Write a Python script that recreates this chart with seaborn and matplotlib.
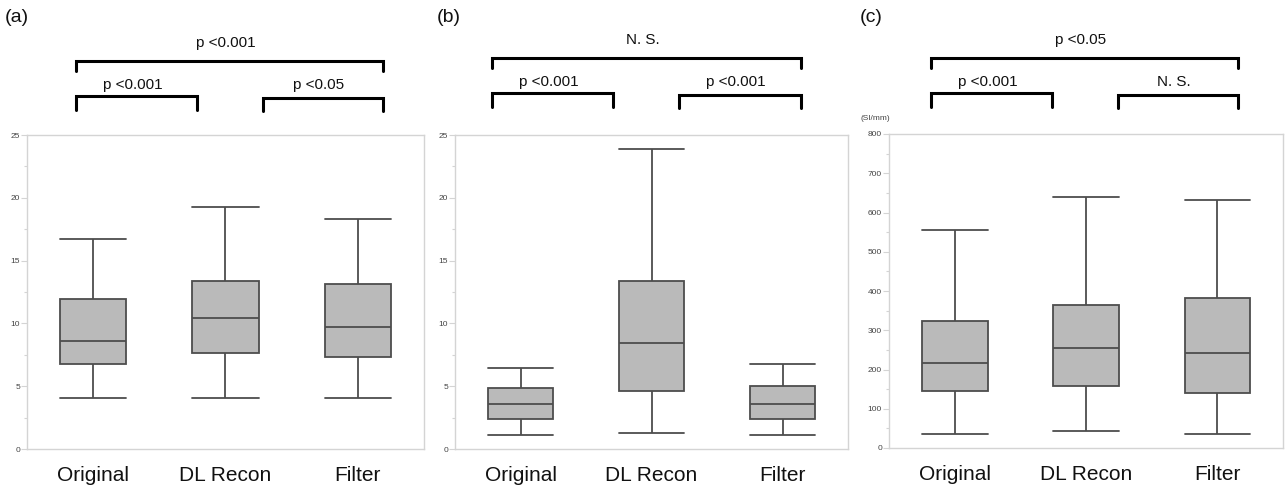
import numpy as np
import pandas as pd
import matplotlib.pyplot as plt
from matplotlib.lines import Line2D
import seaborn as sns

# groups on the x axis
groups = ['Original', 'DL Recon', 'Filter']

# five-number summaries: min, Q1, median, Q3, max
panel_a = {
    'Original': [4.1, 6.75, 8.6, 11.95, 16.7],
    'DL Recon': [4.1, 7.65, 10.4, 13.4, 19.3],
    'Filter': [4.1, 7.35, 9.7, 13.15, 18.3],
}
panel_b = {
    'Original': [1.15, 2.4, 3.6, 4.85, 6.45],
    'DL Recon': [1.3, 4.6, 8.4, 13.4, 23.9],
    'Filter': [1.15, 2.4, 3.6, 5.0, 6.8],
}
panel_c = {
    'Original': [36, 144, 217, 323, 556],
    'DL Recon': [44, 159, 254, 364, 639],
    'Filter': [36, 140, 241, 381, 633],
}

# significance labels: [Original vs Filter, Original vs DL Recon, DL Recon vs Filter]
p_labels_a = ['p <0.001', 'p <0.001', 'p <0.05']
p_labels_b = ['N. S.', 'p <0.001', 'p <0.001']
p_labels_c = ['p <0.05', 'p <0.001', 'N. S.']

panel_names = ['(a)', '(b)', '(c)']
y_max = [25, 25, 800]
y_major = [5, 5, 100]
unit_label = '(SI/mm)'

sns.set_style('white')
plt.rcParams['font.family'] = ['Liberation Sans', 'DejaVu Sans']

W, H = 1287, 488
fig = plt.figure(figsize=(W / 100, H / 100), dpi=100)


def fx(px):
    return px / W


def fy(py):
    return 1 - py / H


# axes boxes in pixels: left, right, top, bottom
ax_px = [(27, 424, 135, 449), (455, 848, 135, 449), (889, 1283, 134, 448)]
# bracket x positions in pixels: outer left, left end, right start, outer right
br_x = [(76, 197, 263, 383), (492, 613, 679, 801), (931, 1052, 1118, 1238)]
br_dy = [3, 0, 0]
label_x = [17, 449, 871]

edge = '#4d4d4d'
frame = '#d4d4d4'

for i, (summ, labels) in enumerate(zip([panel_a, panel_b, panel_c],
                                        [p_labels_a, p_labels_b, p_labels_c])):
    l, r, t, b = ax_px[i]
    ax = fig.add_axes([fx(l), fy(b), fx(r - l), (b - t) / H])

    df = pd.DataFrame([(g, v) for g in groups for v in summ[g]],
                      columns=['group', 'value'])
    sns.boxplot(data=df, x='group', y='value', order=groups, ax=ax,
                whis=(0, 100), width=0.5, color='#bababa', linecolor=edge,
                linewidth=1.3, showfliers=False, capwidths=0.5)

    ax.set_xlim(-0.5, 2.5)
    ax.set_ylim(0, y_max[i])
    ax.set_yticks(np.arange(0, y_max[i] + 1, y_major[i]))
    ax.set_yticks(np.arange(0, y_max[i] + 1, y_major[i] / 2), minor=True)
    ax.set_xlabel('')
    ax.set_ylabel('')
    ax.tick_params(axis='y', which='major', length=4, width=0.8,
                   color=frame, labelsize=6, labelcolor='#444444', pad=1,
                   left=True)
    ax.tick_params(axis='y', which='minor', length=2, width=0.8,
                   color=frame, left=True)
    ax.tick_params(axis='x', length=0, labelsize=15, pad=12,
                   labelcolor='#111111')
    for s in ax.spines.values():
        s.set_color(frame)
        s.set_linewidth(1.0)

    # significance brackets above the plot
    x0, x1, x2, x3 = br_x[i]
    d = br_dy[i]
    brackets = [(x0, x3, 58 + d, 68 + d, 40 + d),
                (x0, x1, 93 + d, 107 + d, 82 + d),
                (x2, x3, 95 + d, 108 + d, 82 + d)]
    for (a, c, ytop, yleg, ytxt), txt in zip(brackets, labels):
        fig.add_artist(Line2D([fx(a), fx(a), fx(c), fx(c)],
                              [fy(yleg), fy(ytop), fy(ytop), fy(yleg)],
                              color='black', lw=2.2,
                              solid_joinstyle='miter'))
        fig.text(fx((a + c) / 2 - 4), fy(ytxt), txt, ha='center',
                 va='center', fontsize=11, color='#111111')

    fig.text(fx(label_x[i]), fy(17), panel_names[i], ha='center',
             va='center', fontsize=14, color='#111111')

fig.text(fx(875), fy(119), unit_label, ha='center', va='center',
         fontsize=6, color='#444444')

fig.savefig('out.png', dpi=100)
